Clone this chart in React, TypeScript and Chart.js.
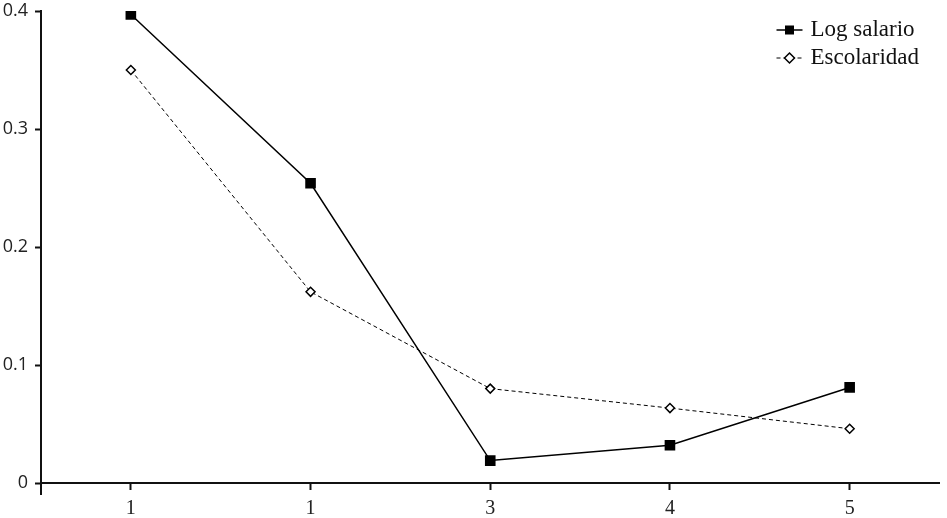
import React, { useEffect, useRef } from "react";
import { Chart, registerables } from "chart.js";

Chart.register(...registerables);

const categories = ["1", "1", "3", "4", "5"];
const logSalario = [0.397, 0.254, 0.019, 0.032, 0.081];
const escolaridad = [0.35, 0.162, 0.08, 0.0635, 0.046];
const yTicks = [0, 0.1, 0.2, 0.3, 0.4];
const seriesNames = ["Log salario", "Escolaridad"];

const SERIF = "'Liberation Serif', 'DejaVu Serif', serif";
const SANS = "'Open Sans', 'DejaVu Sans', sans-serif";

const legendPlugin = {
  id: "customLegend",
  afterDraw(chart: any) {
    const { ctx, chartArea, scales } = chart;
    const y = scales.y;
    ctx.save();
    ctx.strokeStyle = "#111";
    ctx.lineWidth = 2;
    ctx.beginPath();
    ctx.moveTo(chartArea.left, y.getPixelForValue(0));
    ctx.lineTo(chartArea.left, y.getPixelForValue(0) + 12);
    ctx.stroke();

    const lx = chartArea.right - 163;
    let ly = chartArea.top + 19;
    chart.data.datasets.forEach((ds: any, i: number) => {
      ctx.strokeStyle = "#000";
      ctx.lineWidth = ds.borderWidth;
      ctx.setLineDash(ds.borderDash || []);
      ctx.beginPath();
      ctx.moveTo(lx, ly);
      ctx.lineTo(lx + 26, ly);
      ctx.stroke();
      ctx.setLineDash([]);
      const mx = lx + 13;
      if (ds.pointStyle === "rect") {
        ctx.fillStyle = "#000";
        ctx.fillRect(mx - 4.5, ly - 4.5, 9, 9);
      } else {
        ctx.fillStyle = "#fff";
        ctx.lineWidth = 1.5;
        ctx.beginPath();
        ctx.moveTo(mx, ly - 5);
        ctx.lineTo(mx + 5, ly);
        ctx.lineTo(mx, ly + 5);
        ctx.lineTo(mx - 5, ly);
        ctx.closePath();
        ctx.fill();
        ctx.stroke();
      }
      ctx.fillStyle = "#111";
      ctx.font = `23px ${SERIF}`;
      ctx.textBaseline = "middle";
      ctx.textAlign = "left";
      ctx.fillText(seriesNames[i], lx + 34, ly);
      ly += 28;
    });
    ctx.restore();
  },
};

export default function App() {
  const canvasRef = useRef<HTMLCanvasElement | null>(null);

  useEffect(() => {
    document.body.style.margin = "0";
    const canvas = canvasRef.current!;
    const chart = new Chart(canvas, {
      type: "line",
      data: {
        labels: categories,
        datasets: [
          {
            label: seriesNames[0],
            data: logSalario,
            borderColor: "#000",
            backgroundColor: "#000",
            borderWidth: 1.5,
            pointStyle: "rect",
            pointRadius: 7.5,
            pointBorderWidth: 0,
            pointBackgroundColor: "#000",
            tension: 0,
          },
          {
            label: seriesNames[1],
            data: escolaridad,
            borderColor: "#000",
            backgroundColor: "#fff",
            borderWidth: 1,
            borderDash: [4, 3],
            pointStyle: "rectRot",
            pointRadius: 4.5,
            pointBorderWidth: 1.5,
            pointBackgroundColor: "#fff",
            pointBorderColor: "#000",
            tension: 0,
          },
        ],
      },
      options: {
        animation: false,
        responsive: false,
        maintainAspectRatio: false,
        layout: { padding: { top: 11, right: 4, left: 0, bottom: 0 } },
        plugins: {
          legend: { display: false },
          tooltip: { enabled: false },
        },
        scales: {
          x: {
            type: "category",
            offset: true,
            grid: {
              display: true,
              offset: false,
              drawOnChartArea: false,
              drawTicks: true,
              tickLength: 7,
              tickWidth: 2,
              tickColor: "#111",
            },
            border: { display: true, color: "#111", width: 2 },
            ticks: {
              color: "#222",
              font: { family: SERIF, size: 20 },
              padding: 7,
              maxRotation: 0,
            },
            afterFit(scale: any) {
              scale.height = 35;
              scale.paddingLeft = 0;
              scale.paddingRight = 0;
            },
          },
          y: {
            min: 0,
            max: 0.4,
            afterBuildTicks(scale: any) {
              scale.ticks = yTicks.map((v) => ({ value: v }));
            },
            grid: {
              display: true,
              drawOnChartArea: false,
              drawTicks: true,
              tickLength: 6,
              tickWidth: 2,
              tickColor: "#111",
            },
            border: { display: true, color: "#111", width: 2 },
            ticks: {
              color: "#222",
              font: { family: SANS, size: 18 },
              padding: 7,
              callback: (v: any) => (v === 0 ? "0" : String(Number(v).toFixed(1))),
            },
            afterFit(scale: any) {
              scale.width = 41;
              scale.paddingTop = 0;
              scale.paddingBottom = 0;
            },
          },
        },
      },
      plugins: [legendPlugin],
    } as any);
    return () => chart.destroy();
  }, []);

  return (
    <div style={{ position: "absolute", left: 0, top: 0, width: 947, height: 518, background: "#fff" }}>
      <canvas ref={canvasRef} width={947} height={518} style={{ width: 947, height: 518 }} />
    </div>
  );
}
